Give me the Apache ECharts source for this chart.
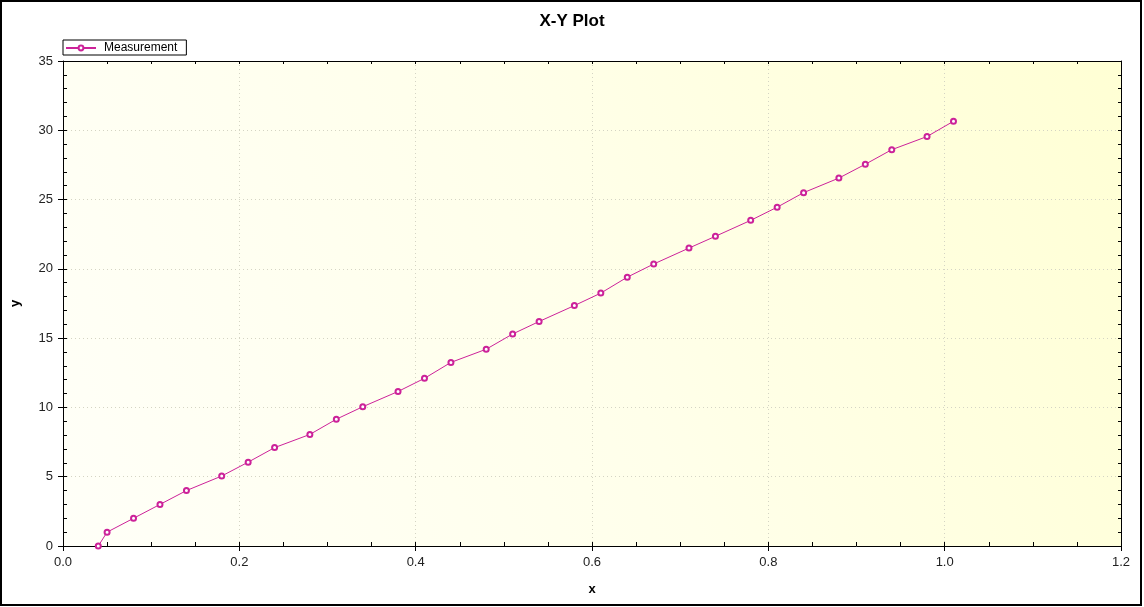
<!DOCTYPE html>
<html>
<head>
<meta charset="utf-8">
<script src="https://cdn.jsdelivr.net/npm/echarts@6/dist/echarts.min.js"></script>
<style>
html,body{margin:0;padding:0;background:#fff;}
#c{width:1144px;height:607px;}
</style>
</head>
<body>
<div id="c"></div>
<script>
const seriesName = 'Measurement';
const xValues = [0.04,0.05,0.08,0.11,0.14,0.18,0.21,0.24,0.28,0.31,0.34,0.38,0.41,0.44,0.48,0.51,0.54,0.58,0.61,0.64,0.67,0.71,0.74,0.78,0.81,0.84,0.88,0.91,0.94,0.98,1.01];
const yValues = [0,1.0,2.0,3.0,4.0,5.05,6.05,7.1,8.05,9.15,10.05,11.15,12.1,13.25,14.2,15.3,16.2,17.35,18.25,19.4,20.35,21.5,22.35,23.5,24.45,25.5,26.55,27.55,28.6,29.55,30.65];

const lineColor = '#cc2299';
const font = 'Liberation Sans, Arial, sans-serif';
const chart = echarts.init(document.getElementById('c'));
const data = xValues.map((x, i) => [x, yValues[i]]);

const blackLine = { color: '#000', width: 1 };
const gridLine = { show: true, lineStyle: { color: '#d4d4c4', type: [1, 3], width: 1 } };

function xAx(extra) {
  return Object.assign({
    type: 'value', min: 0, max: 1.2, interval: 0.2,
    axisLine: { show: true, onZero: false, lineStyle: blackLine },
    axisTick: { show: false }, minorTick: { show: false },
    axisLabel: { show: false }, splitLine: { show: false }
  }, extra);
}
function yAx(extra) {
  return Object.assign({
    type: 'value', min: 0, max: 35, interval: 5,
    axisLine: { show: true, onZero: false, lineStyle: blackLine },
    axisTick: { show: false }, minorTick: { show: false },
    axisLabel: { show: false }, splitLine: { show: false }
  }, extra);
}

chart.setOption({
  animation: false,
  backgroundColor: '#fff',
  title: {
    text: 'X-Y Plot', left: 'center', top: 8,
    textStyle: { fontFamily: font, fontSize: 17, fontWeight: 'bold', color: '#000' }
  },
  legend: {
    left: 63, top: 40, padding: [2, 9, 1, 2],
    borderColor: '#000', borderWidth: 1, backgroundColor: '#fff',
    itemWidth: 30, itemHeight: 6, itemGap: 5,
    textStyle: { fontFamily: font, fontSize: 12, color: '#000', padding: [0, 0, 0, 3] },
    data: [seriesName]
  },
  graphic: [{
    type: 'rect', silent: true, z: -10,
    shape: { x: 1, y: 1, width: 1140, height: 604 },
    style: { fill: 'none', stroke: '#000', lineWidth: 2 }
  }],
  grid: {
    left: 63, right: 23, top: 61, bottom: 61, show: true, borderWidth: 0,
    backgroundColor: new echarts.graphic.LinearGradient(0, 1, 1, 0, [
      { offset: 0, color: '#fffff8' },
      { offset: 0.5, color: '#ffffea' },
      { offset: 1, color: '#ffffd4' }
    ])
  },
  xAxis: [
    xAx({
      position: 'bottom',
      name: 'x', nameLocation: 'middle', nameGap: 37,
      nameTextStyle: { fontFamily: font, fontSize: 13, fontWeight: 'bold', color: '#000' },
      axisTick: { show: true, inside: true, length: 4, lineStyle: blackLine },
      minorTick: { show: true, splitNumber: 4, length: 4, lineStyle: blackLine },
      axisLabel: { show: true, fontFamily: font, fontSize: 13, color: '#222', margin: 10, formatter: v => v.toFixed(1) },
      splitLine: gridLine
    }),
    xAx({ position: 'bottom', axisLine: { show: false, onZero: false },
      axisTick: { show: true, inside: false, length: 5, lineStyle: blackLine } }),
    xAx({ position: 'top',
      axisTick: { show: true, inside: true, length: 3, lineStyle: blackLine },
      minorTick: { show: true, splitNumber: 4, length: 3, lineStyle: blackLine } })
  ],
  yAxis: [
    yAx({
      position: 'left',
      name: 'y', nameLocation: 'middle', nameGap: 41, nameRotate: 90,
      nameTextStyle: { fontFamily: font, fontSize: 13, fontWeight: 'bold', color: '#000' },
      axisTick: { show: true, inside: true, length: 4, lineStyle: blackLine },
      minorTick: { show: true, splitNumber: 5, length: 4, lineStyle: blackLine },
      axisLabel: { show: true, fontFamily: font, fontSize: 13, color: '#222', margin: 10 },
      splitLine: gridLine
    }),
    yAx({ position: 'left', axisLine: { show: false, onZero: false },
      axisTick: { show: true, inside: false, length: 5, lineStyle: blackLine } }),
    yAx({ position: 'right',
      axisTick: { show: true, inside: true, length: 3, lineStyle: blackLine },
      minorTick: { show: true, splitNumber: 5, length: 3, lineStyle: blackLine } })
  ],
  series: [{
    name: seriesName, type: 'line', xAxisIndex: 0, yAxisIndex: 0,
    data: data,
    symbol: 'emptyCircle', symbolSize: 5, showSymbol: true,
    lineStyle: { color: lineColor, width: 1 },
    itemStyle: { color: lineColor, borderColor: lineColor, borderWidth: 1 }
  }]
});
</script>
</body>
</html>
